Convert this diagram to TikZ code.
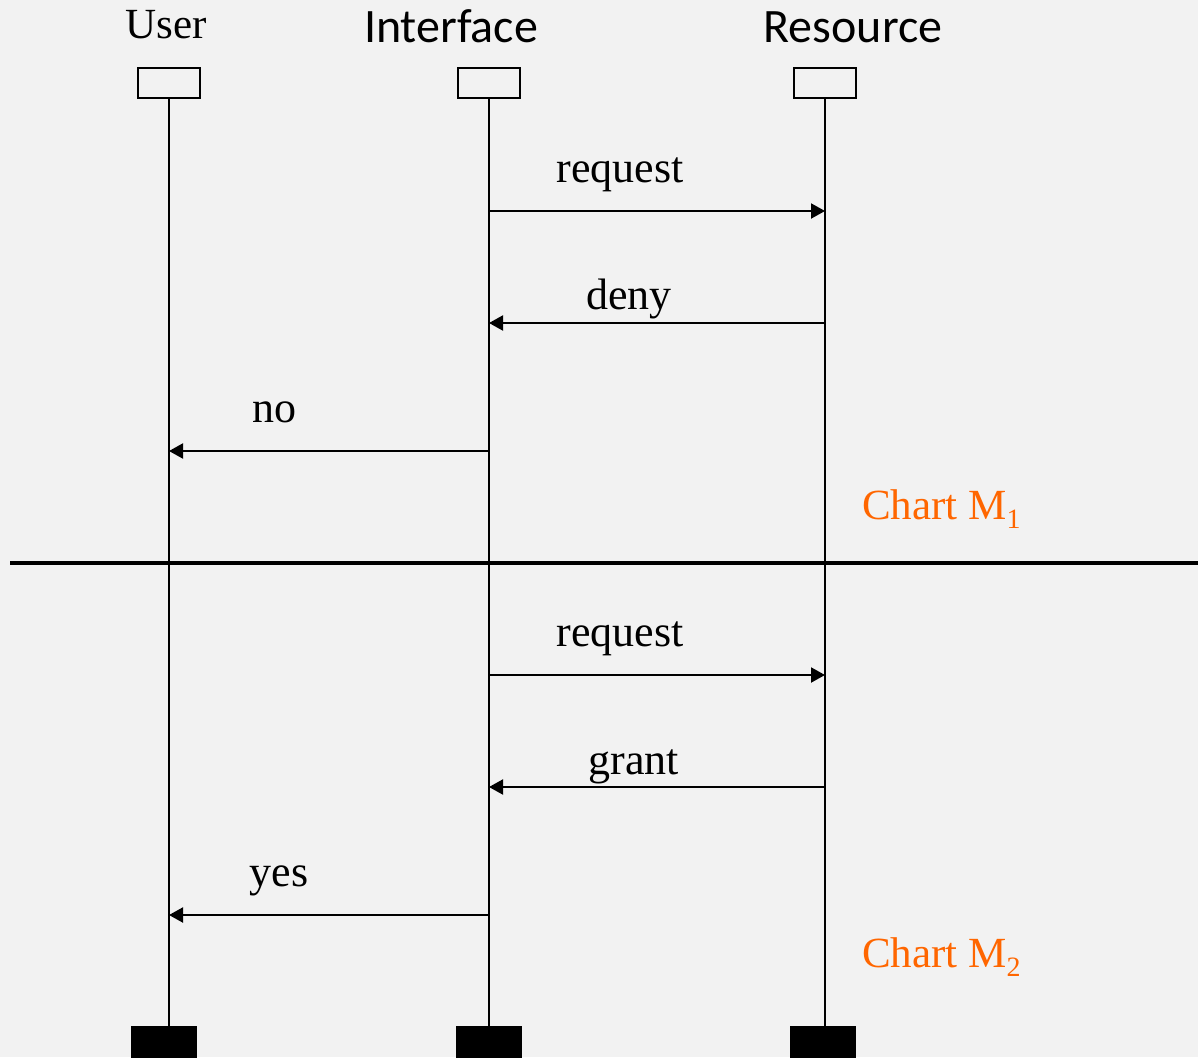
\documentclass[tikz,border=0pt]{standalone}
\usepackage{fontspec}
\setmainfont{Liberation Serif}
\newfontfamily\calib{Carlito}
\usetikzlibrary{arrows.meta}
\definecolor{bg}{HTML}{F2F2F2}
\definecolor{chartorange}{RGB}{255,102,0}
\tikzset{
  headbox/.style={draw=black,line width=2pt,fill=bg,minimum width=62pt,minimum height=30pt,inner sep=0pt,outer sep=0pt},
  endbox/.style={draw=black,fill=black,line width=0pt,minimum width=65pt,minimum height=32pt,inner sep=0pt,outer sep=0pt},
  lifeline/.style={line width=2pt},
  msg/.style={line width=2pt,-{Triangle[length=14pt,width=15pt]}},
  lbl/.style={anchor=base,inner sep=0pt,font=\fontsize{44}{44}\selectfont},
  headg/.style={anchor=base,inner sep=0pt,font=\fontsize{43}{43}\selectfont},
  headc/.style={anchor=base,inner sep=0pt,font=\calib\fontsize{48}{48}\selectfont},
  chart/.style={anchor=base west,inner sep=0pt,text=chartorange,font=\fontsize{43}{43}\selectfont}
}
\newcommand{\chartsub}[1]{\raisebox{-0.22em}{\fontsize{28}{28}\selectfont #1}}
\begin{document}
\begin{tikzpicture}[x=1pt,y=-1pt]
\fill[bg] (0,0) rectangle (1198,1057);
\useasboundingbox (0,0) rectangle (1198,1057);
% headers
\node[headg] (uh) at (166,39) {User};
\node[headc] (ih) at (451,42) {Interface};
\node[headc] (rh) at (853,42) {Resource};
% top boxes
\node[headbox] (ut) at (169,83) {};
\node[headbox] (it) at (489,83) {};
\node[headbox] (rt) at (825,83) {};
% bottom boxes
\node[endbox] (ub) at (163.5,1042) {};
\node[endbox] (ib) at (489,1042) {};
\node[endbox] (rb) at (822.5,1042) {};
% lifelines
\draw[lifeline] (ut.south) -- (ut.south |- ub.north);
\draw[lifeline] (it.south) -- (it.south |- ib.north);
\draw[lifeline] (rt.south) -- (rt.south |- rb.north);
% separator
\coordinate (sepL) at (10,563);
\coordinate (sepR) at (1198,563);
\draw[line width=4pt] (sepL) -- (sepR);
% message points
\coordinate (i1) at (489,211); \coordinate (r1) at (825,211);
\coordinate (i2) at (489,323); \coordinate (r2) at (825,323);
\coordinate (u3) at (169,451); \coordinate (i3) at (489,451);
\coordinate (i4) at (489,675); \coordinate (r4) at (825,675);
\coordinate (i5) at (489,787); \coordinate (r5) at (825,787);
\coordinate (u6) at (169,915); \coordinate (i6) at (489,915);
\draw[msg] (i1) -- (r1);
\draw[msg] (r2) -- (i2);
\draw[msg] (i3) -- (u3);
\draw[msg] (i4) -- (r4);
\draw[msg] (r5) -- (i5);
\draw[msg] (i6) -- (u6);
% labels
\node[lbl] (l1) at (620,182) {request};
\node[lbl] (l2) at (629,309) {deny};
\node[lbl] (l3) at (274,422) {no};
\node[lbl] (l4) at (620,646) {request};
\node[lbl] (l5) at (634,774) {grant};
\node[lbl] (l6) at (279,886) {yes};
\node[chart] (c1) at (862,519) {Chart M\chartsub{1}};
\node[chart] (c2) at (862,967) {Chart M\chartsub{2}};
\end{tikzpicture}
\end{document}
